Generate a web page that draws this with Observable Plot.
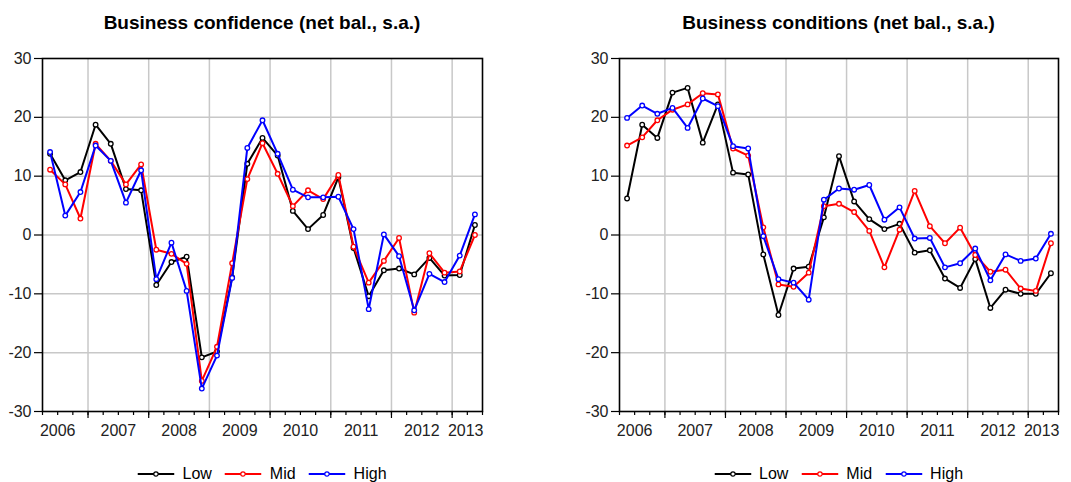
<!DOCTYPE html>
<html><head><meta charset="utf-8">
<script src="https://cdn.jsdelivr.net/npm/d3@7"></script>
<script src="https://cdn.jsdelivr.net/npm/@observablehq/plot@0.6"></script>
<style>
body{margin:0;background:#fff;font-family:"Liberation Sans",Arial,sans-serif;}
#wrap{position:relative;width:1071px;height:482px;overflow:hidden;background:#fff;}
.panel{position:absolute;top:0;}
.title{position:absolute;top:13px;font-weight:bold;font-size:19px;line-height:19px;white-space:nowrap;transform:translateX(-50%);color:#000;}
.legend{position:absolute;top:466px;font-size:16px;line-height:16px;display:flex;align-items:center;transform:translateX(-50%);white-space:nowrap;color:#000;}
.legend .item{display:flex;align-items:center;margin-right:13px;}
.legend .item:last-child{margin-right:0;}
.legend svg{margin-right:8px;display:block;}
</style></head><body><div id="wrap"></div>
<script>
// ---------- data ----------
const seriesNames = ["Low", "Mid", "High"];
const seriesColors = ["#000000", "#ff0000", "#0000ff"];
const yearLabels = [2006, 2007, 2008, 2009, 2010, 2011, 2012, 2013];
const yTicks = [-30, -20, -10, 0, 10, 20, 30];
// quarterly observations 2006Q2 .. 2013Q2
const quarters = ["2006Q2","2006Q3","2006Q4",
  "2007Q1","2007Q2","2007Q3","2007Q4","2008Q1","2008Q2","2008Q3","2008Q4",
  "2009Q1","2009Q2","2009Q3","2009Q4","2010Q1","2010Q2","2010Q3","2010Q4",
  "2011Q1","2011Q2","2011Q3","2011Q4","2012Q1","2012Q2","2012Q3","2012Q4",
  "2013Q1","2013Q2"];

const titleConfidence = "Business confidence (net bal., s.a.)";
const confLow  = [13.8, 9.3, 10.7, 18.75, 15.5, 7.8, 7.6, -8.5, -4.6, -3.7, -20.8, -19.8, -7.2, 12.1, 16.5, 13.5, 4.1, 1.0, 3.4, 9.8, -2.2, -10.4, -6.0, -5.7, -6.7, -3.9, -6.9, -6.8, 1.7];
const confMid  = [11.1, 8.6, 2.8, 15.5, 12.6, 8.6, 12.0, -2.5, -3.2, -4.9, -24.8, -19.0, -4.8, 9.5, 15.6, 10.4, 4.9, 7.6, 6.1, 10.2, -2.0, -8.1, -4.4, -0.5, -13.2, -3.1, -6.4, -6.2, 0.0];
const confHigh = [14.1, 3.3, 7.3, 15.2, 12.6, 5.5, 11.0, -7.5, -1.3, -9.5, -26.1, -20.5, -7.3, 14.8, 19.5, 13.8, 7.7, 6.4, 6.4, 6.5, 1.0, -12.6, 0.1, -3.6, -12.8, -6.6, -8.0, -3.5, 3.5];

const titleConditions = "Business conditions (net bal., s.a.)";
const condLow  = [6.2, 18.75, 16.5, 24.2, 25.0, 15.7, 22.2, 10.6, 10.3, -3.3, -13.6, -5.7, -5.4, 3.0, 13.4, 5.7, 2.7, 1.0, 1.9, -3.0, -2.6, -7.4, -9.0, -4.1, -12.4, -9.3, -10.0, -10.0, -6.5];
const condMid  = [15.2, 16.6, 19.5, 21.3, 22.2, 24.1, 23.9, 14.7, 13.5, 1.3, -8.4, -8.8, -6.4, 4.9, 5.3, 3.9, 0.7, -5.5, 0.9, 7.5, 1.5, -1.4, 1.25, -3.4, -6.25, -5.9, -9.1, -9.5, -1.4];
const condHigh = [19.9, 22.0, 20.6, 21.6, 18.2, 23.2, 21.9, 15.1, 14.7, -0.2, -7.5, -8.1, -11.0, 6.0, 7.9, 7.7, 8.5, 2.6, 4.7, -0.6, -0.5, -5.5, -4.8, -2.3, -7.7, -3.3, -4.4, -4.0, 0.2];

// ---------- helpers ----------
// quarter label -> decimal year at middle of the quarter
const qMid = q => +q.slice(0, 4) + (+q.slice(5) - 1) * 0.25 + 0.125;
const xStart = qMid(quarters[0]) - 0.125;
const xEnd = qMid(quarters[quarters.length - 1]) + 0.125;
const quarterEdges = d3.range(xStart, xEnd + 0.001, 0.25);
const yearEdges = yearLabels.filter(y => y > xStart && y <= xEnd);
const innerGridY = yTicks.filter(v => v > yTicks[0] && v < yTicks[yTicks.length - 1]);

function makePanel(values, opts) {
  const rows = [];
  seriesNames.forEach((s, k) => {
    values[k].forEach((v, i) => rows.push({series: s, x: qMid(quarters[i]), y: v}));
  });
  const labelsInner = yearLabels.slice(0, -1).map(y => ({y, pos: y + 0.5}));
  const labelLast = [{y: yearLabels[yearLabels.length - 1], pos: xEnd}];
  const marks = [
    Plot.ruleX(yearEdges, {stroke: "#c8c8c8", strokeWidth: 1.5}),
    Plot.ruleY(innerGridY, {stroke: "#c8c8c8", strokeWidth: 1.5}),
    Plot.axisY({ticks: yTicks, label: null, tickSize: 8, tickPadding: 3, tickFormat: d => String(d), fontSize: 16, stroke: "#000", fill: "#222", strokeWidth: 1.2}),
    Plot.axisX({ticks: quarterEdges, label: null, tickSize: 4, tickFormat: () => "", stroke: "#000", strokeWidth: 1.2}),
    Plot.axisX({ticks: yearEdges, label: null, tickSize: 7, tickFormat: () => "", stroke: "#000", strokeWidth: 1.2}),
    Plot.text(labelsInner, {x: "pos", text: d => String(d.y), frameAnchor: "bottom", lineAnchor: "top", dy: 13, fontSize: 16, fill: "#222"}),
    Plot.text(labelLast, {x: "pos", text: d => String(d.y), frameAnchor: "bottom", lineAnchor: "top", textAnchor: "end", dy: 13, dx: 1, fontSize: 16, fill: "#222"})
  ];
  seriesNames.forEach((s, k) => {
    const data = rows.filter(r => r.series === s);
    marks.push(Plot.line(data, {x: "x", y: "y", stroke: seriesColors[k], strokeWidth: 2}));
    marks.push(Plot.dot(data, {x: "x", y: "y", r: 2.3, fill: "#fff", stroke: seriesColors[k], strokeWidth: 1.3}));
  });
  marks.push(Plot.frame({stroke: "#000", strokeWidth: 1.6}));
  return Plot.plot({
    width: opts.width, height: 445,
    marginLeft: opts.ml, marginRight: opts.mr, marginTop: 58, marginBottom: 34,
    style: {fontFamily: "'Liberation Sans', Arial, sans-serif", background: "transparent", overflow: "visible"},
    x: {domain: [xStart, xEnd], axis: null, label: null},
    y: {domain: [yTicks[0], yTicks[yTicks.length - 1]], axis: null, label: null},
    marks
  });
}

function makeLegend(center) {
  const div = document.createElement("div");
  div.className = "legend";
  div.style.left = center + "px";
  seriesNames.forEach((s, k) => {
    const item = document.createElement("div");
    item.className = "item";
    item.innerHTML = `<svg width="37" height="10"><line x1="0" x2="37" y1="5" y2="5" stroke="${seriesColors[k]}" stroke-width="2"/><circle cx="18.5" cy="5" r="2.2" fill="#fff" stroke="${seriesColors[k]}" stroke-width="1.2"/></svg><span>${s}</span>`;
    div.appendChild(item);
  });
  return div;
}

function makeTitle(text, center) {
  const t = document.createElement("div");
  t.className = "title";
  t.style.left = center + "px";
  t.textContent = text;
  return t;
}

const wrap = document.getElementById("wrap");
const panels = [
  {values: [confLow, confMid, confHigh], title: titleConfidence, left: 0, width: 535, ml: 42, mr: 53},
  {values: [condLow, condMid, condHigh], title: titleConditions, left: 535, width: 536, ml: 84, mr: 13}
];
panels.forEach(p => {
  const svg = makePanel(p.values, p);
  const holder = document.createElement("div");
  holder.className = "panel";
  holder.style.left = p.left + "px";
  holder.appendChild(svg);
  wrap.appendChild(holder);
  const center = p.left + p.ml + (p.width - p.ml - p.mr) / 2;
  wrap.appendChild(makeTitle(p.title, center));
  wrap.appendChild(makeLegend(center));
});
</script>
</body></html>
